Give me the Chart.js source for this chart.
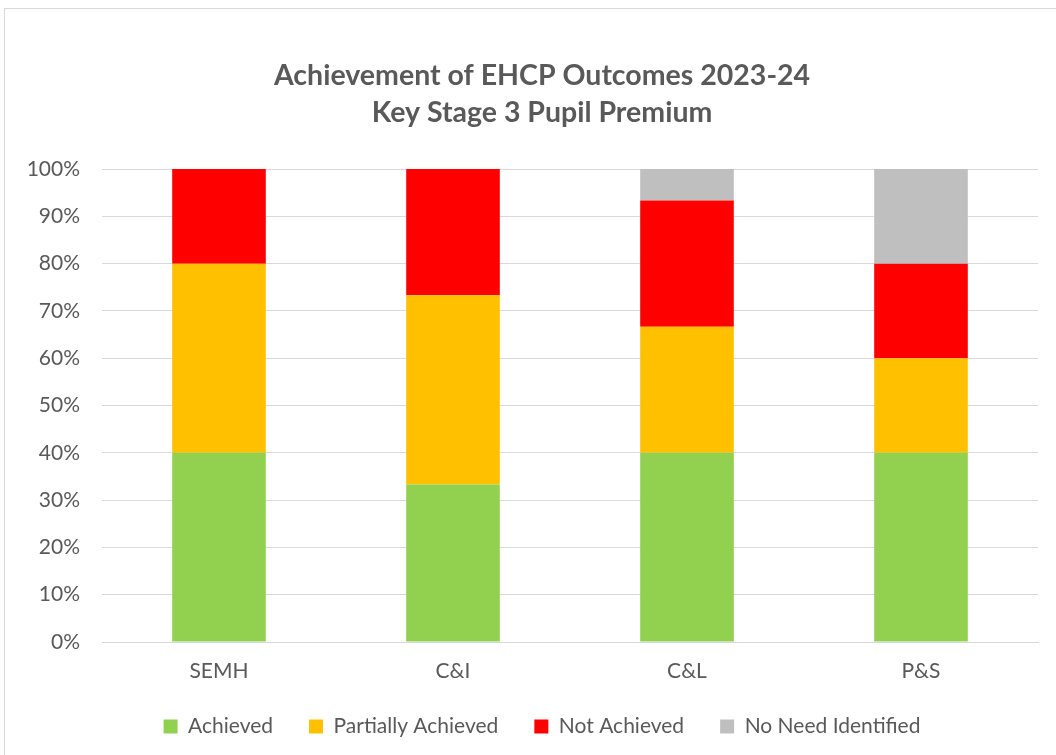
<!DOCTYPE html>
<html>
<head>
<meta charset="utf-8">
<script src="https://cdn.jsdelivr.net/npm/chart.js@4.4.1/dist/chart.umd.min.js"></script>
<style>
  html, body { margin: 0; padding: 0; background: #ffffff; width: 1056px; height: 755px; overflow: hidden; }
  #frame { position: absolute; left: 4px; top: 8px; width: 1070px; height: 770px; border: 1px solid #D9D9D9; box-sizing: border-box; }
  #wrap { position: absolute; left: 0; top: 0; width: 1056px; height: 755px; }
</style>
</head>
<body>
<div id="frame"></div>
<div id="wrap"><canvas id="c" width="1056" height="755"></canvas></div>
<script>
const titleLines = ['Achievement of EHCP Outcomes 2023-24', 'Key Stage 3 Pupil Premium'];
const categories = ['SEMH', 'C&I', 'C&L', 'P&S'];
const achieved = [40, 33.33, 40, 40];
const partiallyAchieved = [40, 40, 26.67, 20];
const notAchieved = [20, 26.67, 26.67, 20];
const noNeedIdentified = [0, 0, 6.67, 20];
const yTicks = [0, 10, 20, 30, 40, 50, 60, 70, 80, 90, 100];

const FONT = 'Lato, "Open Sans", sans-serif';
const TEXT = '#595959';

new Chart(document.getElementById('c'), {
  type: 'bar',
  data: {
    labels: categories,
    datasets: [
      { label: 'Achieved', data: achieved, backgroundColor: '#92D050' },
      { label: 'Partially Achieved', data: partiallyAchieved, backgroundColor: '#FFC000' },
      { label: 'Not Achieved', data: notAchieved, backgroundColor: '#FF0000' },
      { label: 'No Need Identified', data: noNeedIdentified, backgroundColor: '#BFBFBF' }
    ]
  },
  options: {
    responsive: false,
    animation: false,
    layout: { padding: { left: 0, right: -28, top: 0, bottom: 8 } },
    datasets: { bar: { categoryPercentage: 0.8, barPercentage: 0.5 } },
    plugins: {
      title: {
        display: true,
        text: titleLines,
        color: TEXT,
        font: { family: FONT, size: 28.5, weight: 'bold', lineHeight: 1.3 },
        padding: { top: 57, bottom: 38 }
      },
      legend: {
        position: 'bottom',
        labels: {
          color: TEXT,
          font: { family: FONT, size: 21 },
          boxWidth: 14,
          boxHeight: 14,
          padding: 36
        }
      },
      tooltip: { enabled: false }
    },
    scales: {
      x: {
        stacked: true,
        afterFit: (s) => { s.height = 38; },
        grid: { display: false, drawTicks: false },
        border: { display: true, color: '#D9D9D9', width: 1 },
        ticks: { color: TEXT, font: { family: FONT, size: 21 }, padding: 17 }
      },
      y: {
        stacked: true,
        min: 0,
        max: 100,
        afterFit: (s) => { s.width = 102; },
        afterBuildTicks: (s) => { s.ticks = yTicks.map(v => ({ value: v })); },
        grid: { color: '#D9D9D9', lineWidth: 1, drawTicks: false },
        border: { display: false },
        ticks: { color: TEXT, font: { family: FONT, size: 21 }, padding: 22, callback: (v) => v + '%' }
      },
      yRightSpacer: {
        position: 'right',
        min: 0,
        max: 100,
        afterFit: (s) => { s.width = 46; },
        grid: { display: false, drawTicks: false },
        border: { display: false },
        ticks: { display: false }
      }
    }
  }
});
</script>
</body>
</html>
